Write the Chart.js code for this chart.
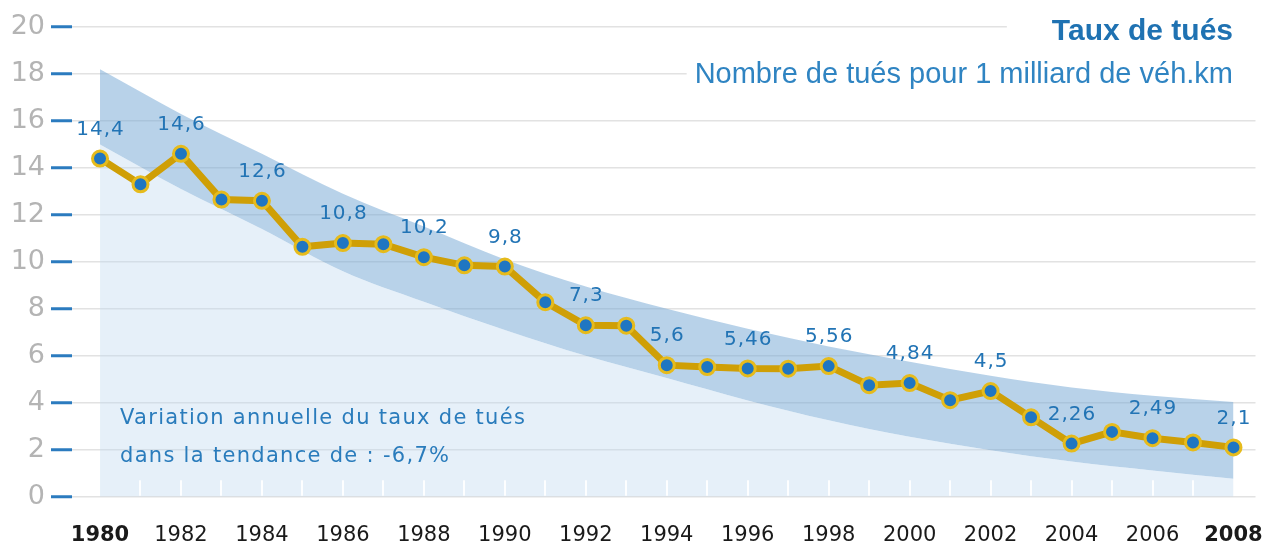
<!DOCTYPE html>
<html>
<head>
<meta charset="utf-8">
<script src="https://cdn.jsdelivr.net/npm/chart.js@4"></script>
<style>
  html, body { margin: 0; padding: 0; background: #fff; overflow: hidden; }
  #wrap { width: 1266px; height: 545px; position: relative; }
</style>
</head>
<body>
<div id="wrap"><canvas id="taux"></canvas></div>
<script>
const years = [1980, 1981, 1982, 1983, 1984, 1985, 1986, 1987, 1988, 1989,
  1990, 1991, 1992, 1993, 1994, 1995, 1996, 1997, 1998, 1999,
  2000, 2001, 2002, 2003, 2004, 2005, 2006, 2007, 2008];
const tauxTues = [14.4, 13.3, 14.6, 12.65, 12.6, 10.64, 10.8, 10.75, 10.2, 9.85,
  9.8, 8.28, 7.3, 7.28, 5.6, 5.52, 5.46, 5.45, 5.56, 4.75,
  4.84, 4.11, 4.5, 3.38, 2.26, 2.76, 2.49, 2.31, 2.1];
const labeledYears = [1980, 1982, 1984, 1986, 1988, 1990, 1992, 1994, 1996, 1998, 2000, 2002, 2004, 2006, 2008];
const xTicks = [1980, 1982, 1984, 1986, 1988, 1990, 1992, 1994, 1996, 1998, 2000, 2002, 2004, 2006, 2008];
const boldTicks = [1980, 2008];

// tendance : bande autour de la courbe -6,7 %/an
const bandYears = [1980, 1982, 1984, 1986, 1988, 1990, 1992, 1994, 1996, 1998, 2000, 2002, 2004, 2006, 2008];
const bandUpper = [18.2, 16.3, 14.6, 12.9, 11.5, 10.1, 8.95, 8.0, 7.15, 6.4, 5.75, 5.15, 4.65, 4.3, 4.03];
const bandLower = [15.0, 13.1, 11.4, 9.6, 8.3, 7.1, 6.0, 5.05, 4.1, 3.25, 2.55, 1.98, 1.5, 1.12, 0.76];

const titre = "Taux de tués";
const sousTitre = "Nombre de tués pour 1 milliard de véh.km";
const note = ["Variation annuelle du taux de tués", "dans la tendance de : -6,7%"];

const BLUE = "#2274b5";
const FONT = "'DejaVu Sans', sans-serif";

const decor = {
  id: "decor",
  beforeDatasetsDraw(chart) {
    const ctx = chart.ctx;
    const right = 1233;
    ctx.save();
    ctx.fillStyle = "#fff";
    ctx.font = "bold 30px 'Liberation Sans', sans-serif";
    const tw = ctx.measureText(titre).width;
    ctx.fillRect(right - tw - 45, 12, 1266, 34);
    ctx.font = "29px 'Liberation Sans', sans-serif";
    const sw = ctx.measureText(sousTitre).width;
    ctx.fillRect(right - sw - 8, 58, 1266, 34);
    ctx.restore();
  },
  afterDatasetsDraw(chart) {
    const ctx = chart.ctx;
    const x = chart.scales.x, y = chart.scales.y;
    ctx.save();
    // petits traits blancs au pied de chaque année
    ctx.strokeStyle = "rgba(255,255,255,0.9)";
    ctx.lineWidth = 2;
    years.slice(1, -1).forEach(yr => {
      const px = Math.round(x.getPixelForValue(yr));
      ctx.beginPath();
      ctx.moveTo(px, y.getPixelForValue(0) - 1);
      ctx.lineTo(px, y.getPixelForValue(0.7));
      ctx.stroke();
    });
    // étiquettes de valeurs
    const meta = chart.getDatasetMeta(0);
    ctx.fillStyle = BLUE;
    ctx.font = "20px " + FONT;
    ctx.letterSpacing = "1px";
    ctx.textAlign = "center";
    ctx.textBaseline = "middle";
    years.forEach((yr, i) => {
      if (!labeledYears.includes(yr)) return;
      const pt = meta.data[i];
      ctx.fillText(String(tauxTues[i]).replace(".", ","), pt.x + 0.5, pt.y - 29);
    });
    // note sur la tendance
    ctx.font = "21px " + FONT;
    ctx.letterSpacing = "1.3px";
    ctx.textAlign = "left";
    ctx.fillStyle = "#2a7cbc";
    ctx.fillText(note[0], 120, 419);
    ctx.fillText(note[1], 120, 457);
    ctx.letterSpacing = "0px";
    // titres
    ctx.textAlign = "right";
    ctx.fillStyle = "#1f72b2";
    ctx.font = "bold 30px 'Liberation Sans', sans-serif";
    ctx.fillText(titre, 1233, 32);
    ctx.fillStyle = "#2f84c2";
    ctx.font = "29px 'Liberation Sans', sans-serif";
    ctx.fillText(sousTitre, 1233, 75);
    ctx.restore();
  }
};

const config = {
  type: "line",
  data: {
    datasets: [
      {
        label: "Taux de tués",
        data: years.map((yr, i) => ({ x: yr, y: tauxTues[i] })),
        borderColor: "#cf9f06",
        borderWidth: 7,
        pointRadius: 7.5,
        pointBackgroundColor: "#1f76c2",
        pointBorderColor: "#e6bb1c",
        pointBorderWidth: 3,
        tension: 0,
        fill: false,
      },
      {
        label: "bas",
        data: bandYears.map((yr, i) => ({ x: yr, y: bandLower[i] })),
        borderWidth: 0,
        pointRadius: 0,
        cubicInterpolationMode: "monotone",
        backgroundColor: "rgba(190,215,238,0.38)",
        fill: "origin",
      },
      {
        label: "haut",
        data: bandYears.map((yr, i) => ({ x: yr, y: bandUpper[i] })),
        borderWidth: 0,
        pointRadius: 0,
        cubicInterpolationMode: "monotone",
        backgroundColor: "rgba(118,168,213,0.52)",
        fill: "-1",
      },
    ],
  },
  options: {
    responsive: true,
    maintainAspectRatio: false,
    animation: false,
    layout: { padding: { top: 27, right: 3, bottom: 0, left: 0 } },
    scales: {
      x: {
        type: "linear",
        min: 1979.308,
        max: 2008.544,
        afterBuildTicks: (s) => { s.ticks = xTicks.map(v => ({ value: v })); },
        afterFit: (s) => { s.height = 48.3; s.paddingLeft = 0; s.paddingRight = 0; },
        grid: { display: false, drawTicks: false },
        border: { display: false },
        ticks: {
          padding: 26,
          color: "#1a1a1a",
          autoSkip: false,
          maxRotation: 0,
          callback: (v) => String(v),
          font: (c) => ({
            family: FONT,
            size: 21,
            weight: c.tick && boldTicks.includes(c.tick.value) ? "bold" : "normal",
          }),
        },
      },
      y: {
        min: 0,
        max: 20,
        afterFit: (s) => { s.width = 72; s.paddingTop = 0; s.paddingBottom = 0; },
        ticks: {
          stepSize: 2,
          padding: 6,
          color: "#b4b4b4",
          font: { family: FONT, size: 27 },
        },
        grid: {
          color: "#e2e2e2",
          lineWidth: 1.5,
          tickColor: "#2b7bbf",
          tickLength: 21,
          tickWidth: 3,
        },
        border: { display: false },
      },
    },
    plugins: {
      legend: { display: false },
      tooltip: { enabled: false },
    },
  },
  plugins: [decor],
};

const tauxChart = new Chart(document.getElementById("taux"), config);
</script>
</body>
</html>
